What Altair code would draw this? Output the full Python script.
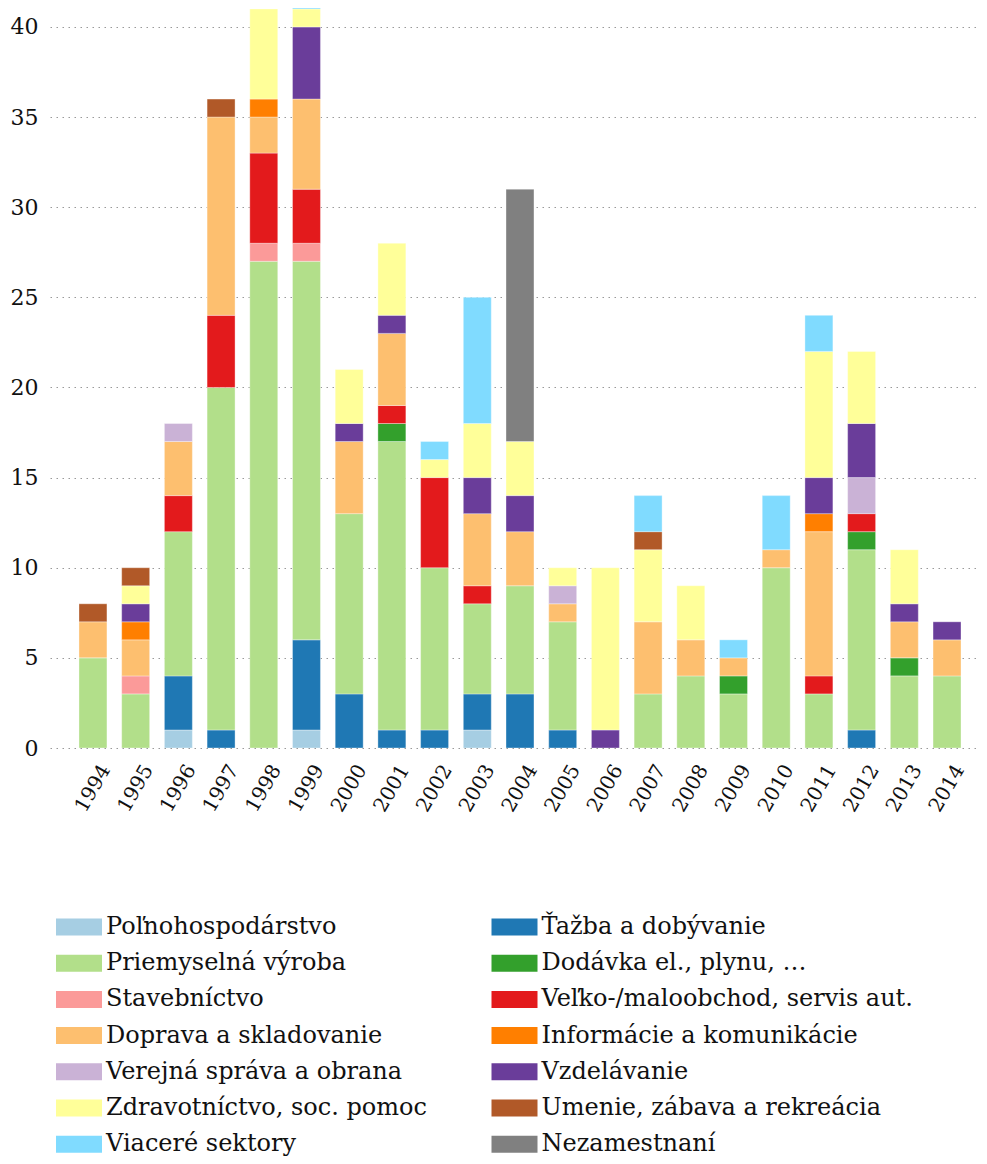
import altair as alt
import pandas as pd

years = [str(y) for y in range(1994, 2015)]

# stacking order (bottom to top)
categories = [
    "Poľnohospodárstvo",
    "Ťažba a dobývanie",
    "Priemyselná výroba",
    "Dodávka el., plynu, …",
    "Stavebníctvo",
    "Veľko-/maloobchod, servis aut.",
    "Doprava a skladovanie",
    "Informácie a komunikácie",
    "Verejná správa a obrana",
    "Vzdelávanie",
    "Zdravotníctvo, soc. pomoc",
    "Umenie, zábava a rekreácia",
    "Viaceré sektory",
    "Nezamestnaní",
]

colors = [
    "#a6cee3", "#1f78b4", "#b2df8a", "#33a02c", "#fb9a99", "#e31a1c",
    "#fdbf6f", "#ff7f00", "#cab2d6", "#6a3d9a", "#ffff99", "#b15928",
    "#80dbff", "#808080",
]

# legend order (filled column by column, two columns)
legend_order = [
    "Poľnohospodárstvo",
    "Priemyselná výroba",
    "Stavebníctvo",
    "Doprava a skladovanie",
    "Verejná správa a obrana",
    "Zdravotníctvo, soc. pomoc",
    "Viaceré sektory",
    "Ťažba a dobývanie",
    "Dodávka el., plynu, …",
    "Veľko-/maloobchod, servis aut.",
    "Informácie a komunikácie",
    "Vzdelávanie",
    "Umenie, zábava a rekreácia",
    "Nezamestnaní",
]

polnohospodarstvo = [0, 0, 1, 0, 0, 1, 0, 0, 0, 1, 0, 0, 0, 0, 0, 0, 0, 0, 0, 0, 0]
tazba = [0, 0, 3, 1, 0, 5, 3, 1, 1, 2, 3, 1, 0, 0, 0, 0, 0, 0, 1, 0, 0]
priemysel = [5, 3, 8, 19, 27, 21, 10, 16, 9, 5, 6, 6, 0, 3, 4, 3, 10, 3, 10, 4, 4]
dodavka = [0, 0, 0, 0, 0, 0, 0, 1, 0, 0, 0, 0, 0, 0, 0, 1, 0, 0, 1, 1, 0]
stavebnictvo = [0, 1, 0, 0, 1, 1, 0, 0, 0, 0, 0, 0, 0, 0, 0, 0, 0, 0, 0, 0, 0]
obchod = [0, 0, 2, 4, 5, 3, 0, 1, 5, 1, 0, 0, 0, 0, 0, 0, 0, 1, 1, 0, 0]
doprava = [2, 2, 3, 11, 2, 5, 4, 4, 0, 4, 3, 1, 0, 4, 2, 1, 1, 8, 0, 2, 2]
informacie = [0, 1, 0, 0, 1, 0, 0, 0, 0, 0, 0, 0, 0, 0, 0, 0, 0, 1, 0, 0, 0]
sprava = [0, 0, 1, 0, 0, 0, 0, 0, 0, 0, 0, 1, 0, 0, 0, 0, 0, 0, 2, 0, 0]
vzdelavanie = [0, 1, 0, 0, 0, 4, 1, 1, 0, 2, 2, 0, 1, 0, 0, 0, 0, 2, 3, 1, 1]
zdravotnictvo = [0, 1, 0, 0, 5, 1, 3, 4, 1, 3, 3, 1, 9, 4, 3, 0, 0, 7, 4, 3, 0]
umenie = [1, 1, 0, 1, 0, 0, 0, 0, 0, 0, 0, 0, 0, 1, 0, 0, 0, 0, 0, 0, 0]
viacere = [0, 0, 0, 0, 0, 1, 0, 0, 1, 7, 0, 0, 0, 2, 0, 1, 3, 2, 0, 0, 0]
nezamestnani = [0, 0, 0, 0, 0, 0, 0, 0, 0, 0, 14, 0, 0, 0, 0, 0, 0, 0, 0, 0, 0]

series = [
    polnohospodarstvo, tazba, priemysel, dodavka, stavebnictvo, obchod, doprava,
    informacie, sprava, vzdelavanie, zdravotnictvo, umenie, viacere, nezamestnani,
]

rows = []
for ci, (cat, vals) in enumerate(zip(categories, series)):
    for yi, y in enumerate(years):
        if vals[yi]:
            rows.append({"rok": y, "sektor": cat, "pocet": vals[yi], "poradie": ci})
df = pd.DataFrame(rows)

color_of = dict(zip(categories, colors))
legend_colors = [color_of[c] for c in legend_order]

FONT = "DejaVu Serif"
SHAPE = "M-1,-0.37L1,-0.37L1,0.37L-1,0.37Z"

chart = (
    alt.Chart(df)
    .mark_bar(clip=True, stroke="white", strokeOpacity=0.35, strokeWidth=1)
    .encode(
        x=alt.X(
            "rok:N",
            sort=years,
            title=None,
            scale=alt.Scale(paddingInner=0.345, paddingOuter=0.55, align=0.617),
            axis=alt.Axis(
                labelAngle=300,
                labelAlign="center",
                labelBaseline="middle",
                labelFont=FONT,
                labelFontSize=20,
                labelColor="#111",
                domain=False,
                ticks=False,
                labelPadding=40,
            ),
        ),
        y=alt.Y(
            "pocet:Q",
            stack="zero",
            title=None,
            scale=alt.Scale(domain=[0, 41.05], nice=False),
            axis=alt.Axis(
                values=list(range(0, 45, 5)),
                labelFont=FONT,
                labelFontSize=22,
                labelColor="#111",
                domain=False,
                ticks=False,
                labelPadding=12,
                grid=True,
                gridDash=[1.5, 4.5],
                gridColor="#999",
                gridWidth=1.2,
            ),
        ),
        color=alt.Color(
            "sektor:N",
            scale=alt.Scale(domain=legend_order, range=legend_colors),
            legend=alt.Legend(
                title=None,
                orient="none",
                legendX=6,
                legendY=896,
                columns=2,
                symbolType=SHAPE,
                symbolSize=2116,
                symbolStrokeWidth=0,
                symbolOpacity=1,
                labelFont=FONT,
                labelFontSize=24,
                labelColor="#111",
                labelLimit=500,
                rowPadding=1.2,
                columnPadding=64.5,
                labelOffset=4,
            ),
        ),
        order=alt.Order("poradie:Q", sort="ascending"),
    )
    .properties(
        width=929,
        height=740,
        autosize=alt.AutoSizeParams(type="none"),
        padding={"left": 42, "top": 0, "right": 0, "bottom": 408},
    )
    .configure_view(strokeWidth=0)
)

chart.save("out.html", embed_options={"renderer": "svg", "actions": False})
